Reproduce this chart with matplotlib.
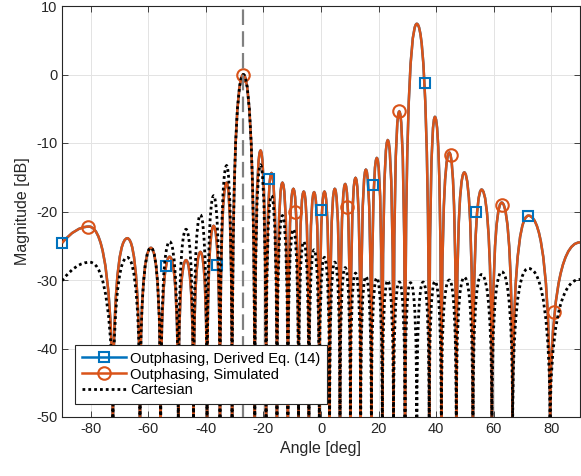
#Imports
import numpy as np
import matplotlib.pyplot as plt
from matplotlib.path import Path
from matplotlib.patches import PathPatch
from matplotlib.lines import Line2D

#Outphasing pattern (derived and simulated overlap): edge value, lobe peaks, nulls between peaks
out_start = (-90.0, -24.6)
out_peak_deg = [-80.6, -67.3, -59.1, -52.6, -46.9, -41.9, -37.3, -32.8, -27.0, -21.0, -17.2,
                -13.4, -9.6, -6.0, -2.4, 1.2, 4.8, 8.4, 12.0, 15.6, 19.4, 23.2, 27.2, 33.3,
                39.6, 44.6, 49.8, 55.8, 62.8, 72.1, 90.0]
out_peak_db = [-22.2, -23.9, -25.3, -26.6, -27.1, -25.9, -22.1, -15.8, 0.0, -11.1, -14.4,
               -15.8, -16.7, -17.1, -17.2, -17.1, -16.7, -16.0, -15.1, -13.9, -12.2, -9.6, -5.4, 7.4,
               -6.2, -11.4, -14.3, -16.8, -18.7, -20.6, -24.5]
out_null_deg = [-72.3, -62.9, -55.7, -49.6, -44.3, -39.6, -35.1, -30.9, -23.0, -19.1, -15.3,
                -11.5, -7.8, -4.2, -0.6, 3.0, 6.6, 10.2, 13.8, 17.5, 21.3, 25.2, 29.2,
                37.6, 41.8, 47.0, 52.8, 59.4, 66.6, 79.6]

#Cartesian pattern
cart_start = (-90.0, -30.1)
cart_peak_deg = [-80.3, -67.3, -59.1, -52.6, -46.9, -41.9, -37.3, -32.8, -27.0, -21.0, -17.2,
                 -13.4, -9.6, -6.0, -2.4, 1.2, 4.8, 8.4, 12.0, 15.6, 19.4, 23.2, 27.2, 31.1,
                 35.5, 39.6, 44.6, 49.8, 55.8, 62.8, 72.1, 90.0]
cart_peak_db = [-27.4, -26.7, -25.3, -24.4, -22.6, -20.5, -17.7, -13.3, 0.0, -13.2, -17.7,
                -20.6, -22.6, -24.4, -25.6, -26.7, -27.4, -28.2, -29.0, -29.5, -29.7, -30.1, -30.3, -30.4,
                -30.3, -30.2, -30.0, -29.6, -29.2, -28.8, -28.3, -29.9]
cart_null_deg = [-72.3, -62.9, -55.7, -49.6, -44.3, -39.6, -35.1, -30.9, -23.0, -19.1, -15.3,
                 -11.5, -7.8, -4.2, -0.6, 3.0, 6.6, 10.2, 13.8, 17.5, 21.3, 25.2, 29.2, 33.3,
                 37.6, 41.8, 47.0, 52.8, 59.4, 66.6, 79.6]

#Marker positions
sq_deg = [-90, -54, -36, -18, 0, 18, 36, 54, 72]
sq_db = [-24.6, -27.9, -27.8, -15.2, -19.8, -16.2, -1.2, -20.1, -20.7]
circ_deg = [-81, -27, -9, 9, 27, 45, 63, 81]
circ_db = [-22.2, 0.0, -20.0, -19.4, -5.4, -11.7, -19.0, -34.7]

steer_deg = -27
null_depth = -52.0 #nulls reach just below the axis floor

blue, orange = '#0072BD', '#D95319'
plt.rcParams['font.family'] = ['Liberation Sans', 'DejaVu Sans']
plt.rcParams['axes.unicode_minus'] = False

#Lobes as quadratic curves: flat at each peak, vertical into each null
def pattern_path(start, peak_deg, peak_db, null_deg):
    verts = [start, ((start[0] + peak_deg[0]) / 2, peak_db[0]), (peak_deg[0], peak_db[0])]
    codes = [Path.MOVETO, Path.CURVE3, Path.CURVE3]
    for i, n in enumerate(null_deg):
        verts += [(n, peak_db[i]), (n, null_depth), (n, peak_db[i + 1]), (peak_deg[i + 1], peak_db[i + 1])]
        codes += [Path.CURVE3] * 4
    return Path(verts, codes)

fig = plt.figure(figsize=(5.81, 4.76), dpi=100)
ax = fig.add_axes([62/581, 59/476, 518/581, 411/476])

out_path = pattern_path(out_start, out_peak_deg, out_peak_db, out_null_deg)
cart_path = pattern_path(cart_start, cart_peak_deg, cart_peak_db, cart_null_deg)
ax.add_patch(PathPatch(out_path, fill=False, edgecolor=blue, lw=1.8, zorder=2))
ax.add_patch(PathPatch(out_path, fill=False, edgecolor=orange, lw=1.8, zorder=3))
ax.plot(sq_deg, sq_db, 's', ms=7.5, mfc='none', mec=blue, mew=1.5, zorder=4, clip_on=False)
ax.plot(circ_deg, circ_db, 'o', ms=9, mfc='none', mec=orange, mew=1.5, zorder=4, clip_on=False)
ax.add_patch(PathPatch(cart_path, fill=False, edgecolor='black', lw=2.0,
                       linestyle=(0, (1, 1.1)), zorder=5))
ax.axvline(steer_deg, color='#808080', lw=1.6, ls=(0, (7, 2.8)), zorder=6)

#Making the graph presentable
ax.set_xlim(-90, 90)
ax.set_ylim(-50, 10)
ax.set_xticks(np.arange(-80, 81, 20))
ax.set_yticks(np.arange(-50, 11, 10))
ax.grid(True, color='#e3e3e3', lw=0.7)
ax.set_axisbelow(True)
for s in ax.spines.values():
    s.set_color('#262626')
    s.set_linewidth(0.8)
ax.tick_params(direction='in', top=True, right=True, length=4, width=0.6,
               colors='#262626', labelsize=10.5, labelcolor='#262626')
ax.set_xlabel('Angle [deg]', fontsize=11.5, color='#262626')
ax.set_ylabel('Magnitude [dB]', fontsize=11.5, color='#262626')

handles = [Line2D([], [], color=blue, lw=1.8, marker='s', ms=7.5, mfc='none', mew=1.5),
           Line2D([], [], color=orange, lw=1.8, marker='o', ms=9, mfc='none', mew=1.5),
           Line2D([], [], color='black', lw=2.0, ls=(0, (1, 1.1)))]
labels = ['Outphasing, Derived Eq. (14)', 'Outphasing, Simulated', 'Cartesian']
leg = ax.legend(handles, labels, loc='lower left', bbox_to_anchor=(0.026, 0.032),
                borderaxespad=0, fancybox=False, framealpha=1, edgecolor='#262626',
                fontsize=10.5, handlelength=3.0, handleheight=1.0, handletextpad=0.3,
                borderpad=0.45, labelspacing=0.08)
leg.get_frame().set_linewidth(0.8)
leg.set_zorder(10)

fig.savefig('out.png', dpi=100)
